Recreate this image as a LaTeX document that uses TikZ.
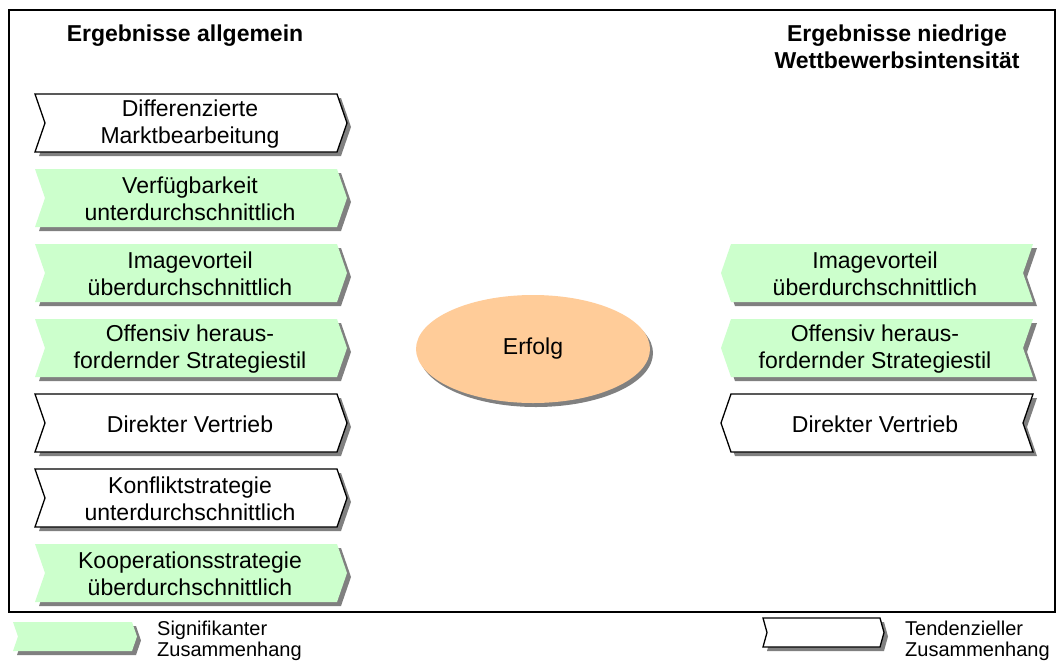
\documentclass[tikz,border=0pt]{standalone}
\usepackage{fontspec}
\setmainfont{Liberation Sans}
\usetikzlibrary{shapes.geometric,shadows}
\definecolor{sig}{HTML}{CCFFCC}
\definecolor{peach}{HTML}{FFCC99}
\definecolor{shad}{HTML}{808080}
\tikzset{
  lbl/.style={font=\fontsize{23}{27}\selectfont, align=center, inner sep=0pt},
  hdr/.style={font=\bfseries\fontsize{23}{27}\selectfont, align=center, inner sep=0pt},
  leg/.style={font=\fontsize{20}{21}\selectfont, align=left, inner sep=0pt, anchor=west},
  shadowfill/.style={fill=shad},
  sigfill/.style={fill=sig},
  tenfill/.style={fill=white, draw=black, line width=1.3pt, line join=miter},
}
% right-pointing chevron: left, top, right(body), bottom, notch, style
\newcommand\chevR[6]{%
  \path[#6] (#1,#2) -- (#3,#2) -- ({#3+#5},{(#2+#4)/2}) -- (#3,#4) -- (#1,#4) -- ({#1+#5},{(#2+#4)/2}) -- cycle;}
% left-pointing chevron: left(body), top, right, bottom, notch, style
\newcommand\chevL[6]{%
  \path[#6] (#1,#2) -- (#3,#2) -- ({#3-#5},{(#2+#4)/2}) -- (#3,#4) -- (#1,#4) -- ({#1-#5},{(#2+#4)/2}) -- cycle;}
\newcommand\boxR[4]{%
  \chevR{39}{#1+4}{341}{#1+62}{10}{shadowfill}
  \chevR{35}{#1}{337}{#1+58}{10}{#2}
  \node[lbl] (#3) at (190,{#1+30}) {#4};}
\newcommand\boxL[4]{%
  \chevL{735}{#1+4}{1037}{#1+62}{10}{shadowfill}
  \chevL{731}{#1}{1033}{#1+58}{10}{#2}
  \node[lbl] (#3) at (875,{#1+30}) {#4};}
\begin{document}
\begin{tikzpicture}[x=1pt,y=-1pt]
\useasboundingbox (0,0) rectangle (1058,662);
\fill[white] (0,0) rectangle (1058,662);
\draw[line width=1.3pt] (9,10) rectangle (1055,612);

\node[hdr, anchor=base] (hl) at (185,41) {Ergebnisse allgemein};
\node[hdr] (hr) at (897,47) {Ergebnisse niedrige\\Wettbewerbsintensität};

\boxR{94}{tenfill}{l1}{Differenzierte\\Marktbearbeitung}
\boxR{169}{sigfill}{l2}{Verfügbarkeit\\unterdurchschnittlich}
\boxR{244}{sigfill}{l3}{Imagevorteil\\überdurchschnittlich}
\boxR{319}{sigfill}{l4}{Offensiv heraus-\\fordernder Strategiestil}
\boxR{394}{tenfill}{l5}{Direkter Vertrieb}
\boxR{469}{tenfill}{l6}{Konfliktstrategie\\unterdurchschnittlich}
\boxR{544}{sigfill}{l7}{Kooperationsstrategie\\überdurchschnittlich}

\boxL{244}{sigfill}{r1}{Imagevorteil\\überdurchschnittlich}
\boxL{319}{sigfill}{r2}{Offensiv heraus-\\fordernder Strategiestil}
\boxL{394}{tenfill}{r3}{Direkter Vertrieb}

\node[ellipse, fill=peach, inner sep=0pt, minimum width=234pt, minimum height=108pt,
      font=\fontsize{23}{27}\selectfont,
      drop shadow={shadow xshift=3pt, shadow yshift=-4pt, fill=shad, opacity=1}]
      (erfolg) at (533,349) {Erfolg};

\chevR{17}{626}{136}{655}{5}{shadowfill}
\chevR{13}{622}{132}{651}{5}{sigfill}
\node[leg] (sigtext) at (157,641) {Signifikanter\\Zusammenhang};
\chevR{767}{622}{884}{651}{4}{shadowfill}
\chevR{763}{618}{880}{647}{4}{tenfill}
\node[leg] (tentext) at (905,641) {Tendenzieller\\Zusammenhang};
\end{tikzpicture}
\end{document}
